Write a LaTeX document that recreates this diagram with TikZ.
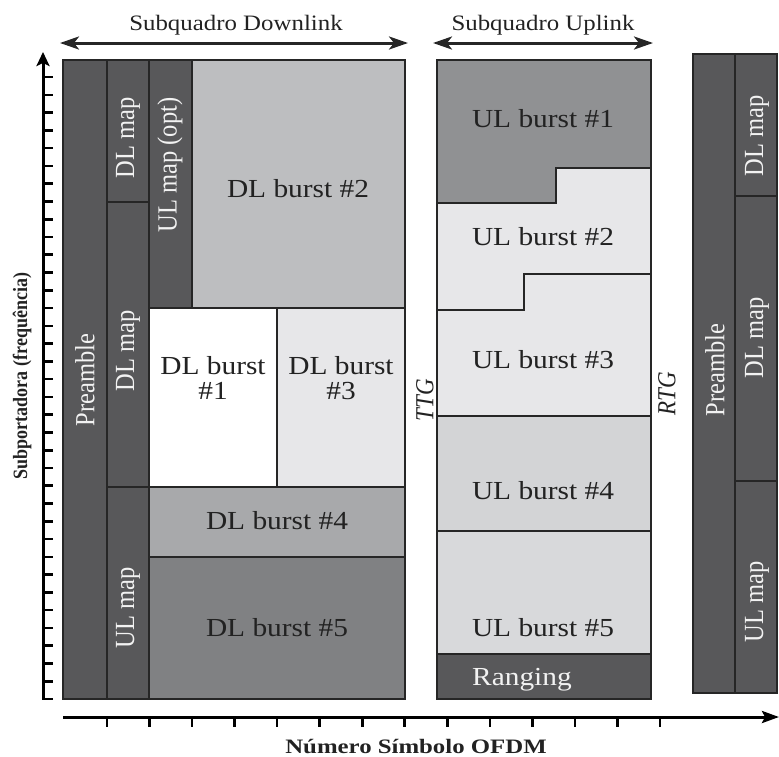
\documentclass[tikz,border=0pt]{standalone}
\usepackage{fontspec}
\setmainfont{Liberation Serif}
\usetikzlibrary{arrows.meta}

\definecolor{edge}{HTML}{262626}
\definecolor{dark}{HTML}{58585A}
\definecolor{burstA}{HTML}{BDBEC0}
\definecolor{burstB}{HTML}{E7E7E9}
\definecolor{burstC}{HTML}{A8A9AB}
\definecolor{burstD}{HTML}{808183}
\definecolor{burstE}{HTML}{909193}
\definecolor{burstF}{HTML}{D3D4D6}
\definecolor{burstG}{HTML}{D8D9DB}
\definecolor{ink}{HTML}{222222}
\definecolor{paleink}{HTML}{F2F2F2}

% slightly widened lettering
\newcommand{\wideh}[1]{\scalebox{1.13}[1]{#1}}
\newcommand{\widev}[1]{\scalebox{1}[1.13]{#1}}

\tikzset{
  cell/.style={draw=edge, line width=2.6pt},
  burst/.style={font=\fontsize{26}{25}\selectfont, text=ink, inner sep=0pt, align=center},
  maplbl/.style={font=\fontsize{24.5}{26}\selectfont, text=paleink, inner sep=0pt, rotate=90},
  headlbl/.style={font=\fontsize{22}{24}\selectfont, text=ink, inner sep=0pt},
  gaplbl/.style={font=\fontsize{23}{24}\selectfont\itshape, text=ink, inner sep=0pt, rotate=90},
  axis/.style={line width=3pt, draw=black},
  tickmark/.style={line width=2.6pt, draw=black},
  span/.style={line width=3pt, draw=edge,
    {Stealth[length=19pt,width=13pt,inset=5pt]}-{Stealth[length=19pt,width=13pt,inset=5pt]}},
}

\begin{document}
\begin{tikzpicture}[x=1pt,y=-1pt]
\useasboundingbox (0,0) rectangle (779,756);

% ---------------- downlink subframe ----------------
\filldraw[cell, fill=dark]   (63,60)  rectangle (107,699);
\filldraw[cell, fill=dark]   (107,60) rectangle (149,202);
\filldraw[cell, fill=dark]   (107,202) rectangle (149,487);
\filldraw[cell, fill=dark]   (107,487) rectangle (149,699);
\filldraw[cell, fill=dark]   (149,60) rectangle (192,308);
\filldraw[cell, fill=burstA] (192,60) rectangle (405,308);
\filldraw[cell, fill=white]  (149,308) rectangle (277,487);
\filldraw[cell, fill=burstB] (277,308) rectangle (405,487);
\filldraw[cell, fill=burstC] (149,487) rectangle (405,557);
\filldraw[cell, fill=burstD] (149,557) rectangle (405,699);

\node[maplbl] (pre1) at (85,380) {\widev{Preamble}};
\node[maplbl] (dlmap1) at (128,138) {\widev{DL map}};
\node[maplbl] (dlmap2) at (128,351) {\widev{DL map}};
\node[maplbl] (ulmap1) at (128,608) {\widev{UL map}};
\node[maplbl] (ulmapopt) at (170,165) {\widev{UL map (opt)}};
\node[burst] (dl2) at (298,189) {\wideh{DL burst \#2}};
\node[burst] (dl1) at (213,378) {\wideh{DL burst}\\\wideh{\#1}};
\node[burst] (dl3) at (341,378) {\wideh{DL burst}\\\wideh{\#3}};
\node[burst] (dl4) at (277,521) {\wideh{DL burst \#4}};
\node[burst] (dl5) at (277,628) {\wideh{DL burst \#5}};

% ---------------- uplink subframe ----------------
\filldraw[cell, fill=burstE] (437,60) -- (651,60) -- (651,168) -- (556,168)
  -- (556,203) -- (437,203) -- cycle;
\filldraw[cell, fill=burstB] (437,203) -- (556,203) -- (556,168) -- (651,168)
  -- (651,274) -- (524,274) -- (524,310) -- (437,310) -- cycle;
\filldraw[cell, fill=burstB] (437,310) -- (524,310) -- (524,274) -- (651,274)
  -- (651,416) -- (437,416) -- cycle;
\filldraw[cell, fill=burstF] (437,416) rectangle (651,531);
\filldraw[cell, fill=burstG] (437,531) rectangle (651,654);
\filldraw[cell, fill=dark]   (437,654) rectangle (651,699);

\node[burst] (ul1) at (543,119) {\wideh{UL burst \#1}};
\node[burst] (ul2) at (543,237) {\wideh{UL burst \#2}};
\node[burst] (ul3) at (543,360) {\wideh{UL burst \#3}};
\node[burst] (ul4) at (543,491) {\wideh{UL burst \#4}};
\node[burst] (ul5) at (543,628) {\wideh{UL burst \#5}};
\node[burst, text=paleink] (rng) at (522,680) {\wideh{Ranging}};

% transition gaps
\node[gaplbl] (ttg) at (425,400) {\widev{TTG}};
\node[gaplbl] (rtg) at (667,394) {\widev{RTG}};

% ---------------- next frame ----------------
\filldraw[cell, fill=dark] (693,54)  rectangle (735,693);
\filldraw[cell, fill=dark] (735,54)  rectangle (777,196);
\filldraw[cell, fill=dark] (735,196) rectangle (777,481);
\filldraw[cell, fill=dark] (735,481) rectangle (777,693);

\node[maplbl] (pre2) at (715,370) {\widev{Preamble}};
\node[maplbl] (dlmap3) at (757,136) {\widev{DL map}};
\node[maplbl] (dlmap4) at (757,338) {\widev{DL map}};
\node[maplbl] (ulmap2) at (757,602) {\widev{UL map}};

% ---------------- subframe spans ----------------
\coordinate (dlL) at (60,43);
\coordinate (dlR) at (408,43);
\coordinate (ulL) at (433,43);
\coordinate (ulR) at (653,43);
\draw[span] (dlL) -- (dlR);
\draw[span] (ulL) -- (ulR);
\node[headlbl] (dlhead) at (236,25) {\wideh{Subquadro Downlink}};
\node[headlbl] (ulhead) at (543,25) {\wideh{Subquadro Uplink}};

% ---------------- axes ----------------
\coordinate (yorig) at (43,699);
\coordinate (ytop) at (43,52);
\draw[axis, -{Stealth[length=14pt,width=13pt,inset=3pt]}] (yorig) -- (ytop);
\foreach \k in {0,...,35}
  \draw[tickmark] (42,699-17.77*\k) -- (53,699-17.77*\k);

\coordinate (xorig) at (63,717);
\coordinate (xend) at (779,717);
\draw[axis, -{Stealth[length=17pt,width=12pt,inset=3pt]}] (xorig) -- (xend);
\foreach \k in {0,...,13}
  \draw[tickmark] (107+42.54*\k,717) -- (107+42.54*\k,727);

\node[font=\fontsize{18}{20}\selectfont\bfseries, text=ink, inner sep=0pt, rotate=90]
  (ylab) at (22,376) {\widev{Subportadora (frequência)}};
\node[font=\fontsize{20.5}{22}\selectfont\bfseries, text=ink, inner sep=0pt]
  (xlab) at (416,746) {\scalebox{1.21}[1]{Número Símbolo OFDM}};
\end{tikzpicture}
\end{document}
